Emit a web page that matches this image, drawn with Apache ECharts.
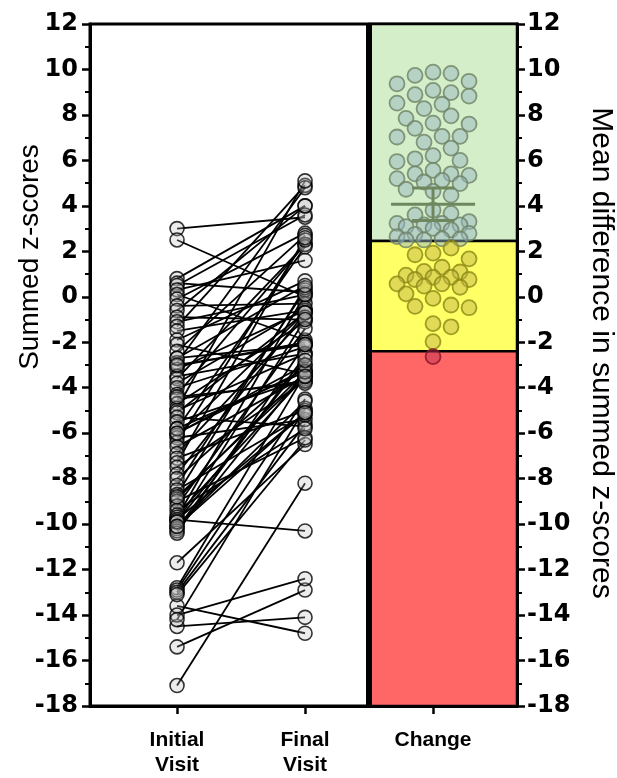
<!DOCTYPE html>
<html>
<head>
<meta charset="utf-8">
<script src="https://cdn.jsdelivr.net/npm/echarts@6/dist/echarts.min.js"></script>
<style>
  html, body { margin: 0; padding: 0; background: #fff; }
  #chart { width: 617px; height: 778px; }
</style>
</head>
<body>
<div id="chart"></div>
<script>
// category positions on the x value axis
const xCats = [1, 2, 3];
const xNames = ['Initial\nVisit', 'Final\nVisit', 'Change'];

// summed z-scores per patient, initial visit and final visit (same order)
const initialVisit = [
  -17.1, -15.4, -14.5, -13.6, -14.0, -9.8, 3.0, 2.5, -11.7, -12.8, -12.9, -13.0, -13.1, -14.2,
  0.8, 0.6, 0.5, 0.3, 0.1, -0.1, -0.4, -0.6, -0.9, -1.1, -1.3, -1.5, -1.9, -2.1, -2.4, -2.7,
  -2.9, -3.05, -3.2, -3.5, -3.6, -3.8, -4.0, -4.3, -4.5, -4.7, -4.9, -5.0, -5.1, -5.3, -5.5,
  -5.8, -6.0, -6.1, -6.2, -6.4, -6.6, -6.9, -7.1, -7.3, -7.5, -7.8, -8.0, -8.3, -8.5, -8.7,
  -8.9, -9.0, -9.2, -9.4, -9.6, -9.7, -9.8, -9.9, -10.1, -10.2, -10.3, -10.4,
  -2.7, -3.0, -4.4, -5.8, -6.0, -8.8, -9.9, -10.1
];
const finalVisit = [
  -8.2, -12.9, -14.1, -14.8, -12.4, -10.3, 3.5, 0.0, -6.5, -3.4, -4.5, -5.6, -6.3, -4.9,
  4.0, 0.2, 3.6, 1.6, -1.9, 2.8, -0.3, 4.0, -1.0, 0.1, 4.9, -0.6, 0.7, -3.4, 2.7, -2.1,
  4.8, -2.0, -0.6, -2.5, 2.3, -0.5, -2.2, 2.3, -3.7, -1.1, 5.1, -2.5, -0.7, -5.7, -3.6,
  2.2, -3.2, -0.7, -5.4, 2.5, -3.5, -0.9, -5.0, 2.6, -3.7, -0.7, -3.0, 0.3, -5.2, 0.4,
  -3.3, -6.2, -1.4, -5.8, -3.5, 0.1, -5.1, -1.0, -4.6, -2.6, -3.3, -2.1,
  0.5, -2.1, -3.8, -3.3, -3.0, -3.5, -2.8, -5.1
];

// mean difference per patient (Change column)
const changeValues = [
  9.88, 9.83, 9.74, 9.48, 9.37, 9.08, 8.98, 8.89, 8.83, 8.52,
  8.47, 8.28, 7.96, 7.85, 7.64, 7.6, 7.41, 7.06, 7.06, 7.03,
  6.8, 6.54, 6.21, 6.07, 6.0, 5.95, 5.56, 5.41, 5.41, 5.34,
  5.2, 5.12, 5.05, 4.98, 4.73, 4.64, 4.47, 3.81, 3.67, 3.6,
  3.31, 3.23, 3.23, 3.16, 3.16, 3.09, 3.01, 2.94, 2.79, 2.75,
  2.65, 2.55, 2.55, 2.5, 2.5,
  2.14, 1.92, 1.85, 1.67, 1.3, 1.12, 1.09, 0.95, 0.86, 0.86,
  0.76, 0.76, 0.57, 0.57, 0.47, 0.42, 0.13, -0.07, -0.36, -0.42,
  -0.48, -1.18, -1.32, -1.97,
  -2.63
];

// thresholds of the coloured bands
const upperBand = 2.45;
const lowerBand = -2.4;

const yTicks = { min: -18, max: 12, interval: 2 };

// layout
const gridLeft = 90, gridRight = 100, gridTop = 24, gridBottom = 67;
const xMin = 0.32, xMax = 3.656;
const W = 617, H = 778;
const pxPerX = (W - gridLeft - gridRight) / (xMax - xMin);
const pxPerY = (H - gridTop - gridBottom) / (yTicks.max - yTicks.min);

// simple beeswarm for the change column
function swarm(values) {
  const order = values.map((v, i) => i).sort((a, b) => values[b] - values[a]);
  const offs = [0, 9, -9, 18, -18, 27, -27, 36, -36];
  const placed = [];
  const res = new Array(values.length);
  order.forEach(i => {
    const y = values[i] * pxPerY;
    let best = 0, bestD = -1;
    for (const o of offs) {
      let dmin = Infinity;
      placed.forEach(p => {
        const d = Math.hypot(p[0] - o, p[1] - y);
        if (d < dmin) dmin = d;
      });
      if (dmin >= 14.5) { best = o; break; }
      if (dmin > bestD) { bestD = dmin; best = o; }
    }
    placed.push([best, y]);
    res[i] = 3 + best / pxPerX;
  });
  return res;
}

const swarmX = swarm(changeValues);
const n = changeValues.length;
const mean = changeValues.reduce((a, b) => a + b, 0) / n;
const sd = Math.sqrt(changeValues.reduce((a, b) => a + (b - mean) * (b - mean), 0) / (n - 1));
const ci = 1.96 * sd / Math.sqrt(n);

const FONT = '"Liberation Sans", Arial, sans-serif';
const TICKFONT = '"DejaVu Sans", sans-serif';

function pointStyle(v) {
  if (v >= upperBand) return { color: 'rgba(150,180,195,0.6)', borderColor: '#6e8264' };
  if (v >= lowerBand) return { color: 'rgba(190,178,70,0.6)', borderColor: '#8c8a14' };
  return { color: 'rgba(188,49,82,0.6)', borderColor: '#821428' };
}

const pairSeries = initialVisit.map((v, i) => ({
  type: 'line',
  data: [[1, v], [2, finalVisit[i]]],
  showSymbol: false,
  silent: true,
  lineStyle: { color: '#000', width: 1.8 },
  z: 2
}));

const visitPoints = [];
initialVisit.forEach(v => visitPoints.push([1, v]));
finalVisit.forEach(v => visitPoints.push([2, v]));

const chart = echarts.init(document.getElementById('chart'), null, { renderer: 'canvas' });

const yAxisBase = {
  type: 'value', min: yTicks.min, max: yTicks.max, interval: yTicks.interval,
  splitLine: { show: false },
  axisLine: { show: true, onZero: false, lineStyle: { color: '#000', width: 3 } },
  axisTick: { show: true, length: 8, lineStyle: { color: '#000', width: 2.5 } },
  minorTick: { show: true, splitNumber: 2, length: 5, lineStyle: { color: '#000', width: 2 } }
};

const option = {
  animation: false,
  backgroundColor: '#fff',
  grid: {
    left: gridLeft, right: gridRight, top: gridTop, bottom: gridBottom,
    show: true, borderColor: '#000', borderWidth: 3, backgroundColor: 'transparent'
  },
  xAxis: {
    type: 'value',
    min: xMin, max: xMax,
    splitLine: { show: false },
    axisLine: { onZero: false, lineStyle: { color: '#000', width: 3 } },
    axisTick: { customValues: xCats, length: 8, lineStyle: { color: '#000', width: 2.5 } },
    axisLabel: {
      customValues: xCats,
      formatter: v => xNames[Math.round(v) - 1],
      color: '#000', fontFamily: FONT, fontWeight: 'bold', fontSize: 21,
      lineHeight: 25, margin: 22
    }
  },
  yAxis: [
    Object.assign({}, yAxisBase, {
      position: 'left',
      axisLabel: { color: '#000', fontFamily: TICKFONT, fontWeight: 'bold', fontSize: 24, margin: 12 }
    }),
    Object.assign({}, yAxisBase, {
      position: 'right',
      axisLabel: { color: '#000', fontFamily: TICKFONT, fontWeight: 'bold', fontSize: 24, margin: 10 }
    })
  ],
  graphic: [
    {
      type: 'text', x: 30, y: 257, rotation: Math.PI / 2,
      style: { text: 'Summed z-scores', fill: '#000', font: '28px ' + FONT, align: 'center', verticalAlign: 'middle' }
    },
    {
      type: 'text', x: 601, y: 353, rotation: -Math.PI / 2,
      style: { text: 'Mean difference in summed z-scores', fill: '#000', font: '30px ' + FONT, align: 'center', verticalAlign: 'middle' }
    }
  ],
  series: [
    {
      // coloured bands behind the change column
      type: 'scatter',
      data: [],
      silent: true,
      markArea: {
        silent: true,
        data: [
          [{ xAxis: 2.5, yAxis: upperBand, itemStyle: { color: '#d3eec8' } }, { xAxis: xMax, yAxis: yTicks.max }],
          [{ xAxis: 2.5, yAxis: lowerBand, itemStyle: { color: '#ffff66' } }, { xAxis: xMax, yAxis: upperBand }],
          [{ xAxis: 2.5, yAxis: yTicks.min, itemStyle: { color: '#ff6666' } }, { xAxis: xMax, yAxis: lowerBand }]
        ],
        itemStyle: { borderColor: '#000', borderWidth: 2.5 }
      },
      markLine: {
        silent: true,
        symbol: 'none',
        label: { show: false },
        lineStyle: { color: '#000', width: 6, type: 'solid' },
        data: [{ xAxis: 2.5 }]
      },
      z: 1
    },
    ...pairSeries,
    {
      type: 'scatter',
      data: visitPoints,
      symbolSize: 14,
      itemStyle: { color: 'rgba(185,185,185,0.35)', borderColor: '#000', borderWidth: 1.6 },
      z: 3
    },
    {
      type: 'scatter',
      data: changeValues.map((v, i) => ({ value: [swarmX[i], v], itemStyle: pointStyle(v) })),
      symbolSize: 15,
      itemStyle: { borderWidth: 1.8 },
      z: 3
    },
    {
      // mean with 95% CI
      type: 'custom',
      data: [[3, mean, mean - ci, mean + ci]],
      z: 4,
      renderItem: (params, api) => {
        const c = api.coord([api.value(0), api.value(1)]);
        const lo = api.coord([api.value(0), api.value(2)]);
        const hi = api.coord([api.value(0), api.value(3)]);
        const st = { stroke: '#6e875f', lineWidth: 3 };
        return {
          type: 'group',
          children: [
            { type: 'line', shape: { x1: c[0] - 42, y1: c[1], x2: c[0] + 42, y2: c[1] }, style: st },
            { type: 'line', shape: { x1: c[0], y1: lo[1], x2: c[0], y2: hi[1] }, style: st },
            { type: 'line', shape: { x1: c[0] - 21, y1: lo[1], x2: c[0] + 21, y2: lo[1] }, style: st },
            { type: 'line', shape: { x1: c[0] - 21, y1: hi[1], x2: c[0] + 21, y2: hi[1] }, style: st }
          ]
        };
      }
    }
  ]
};

chart.setOption(option);
</script>
</body>
</html>
